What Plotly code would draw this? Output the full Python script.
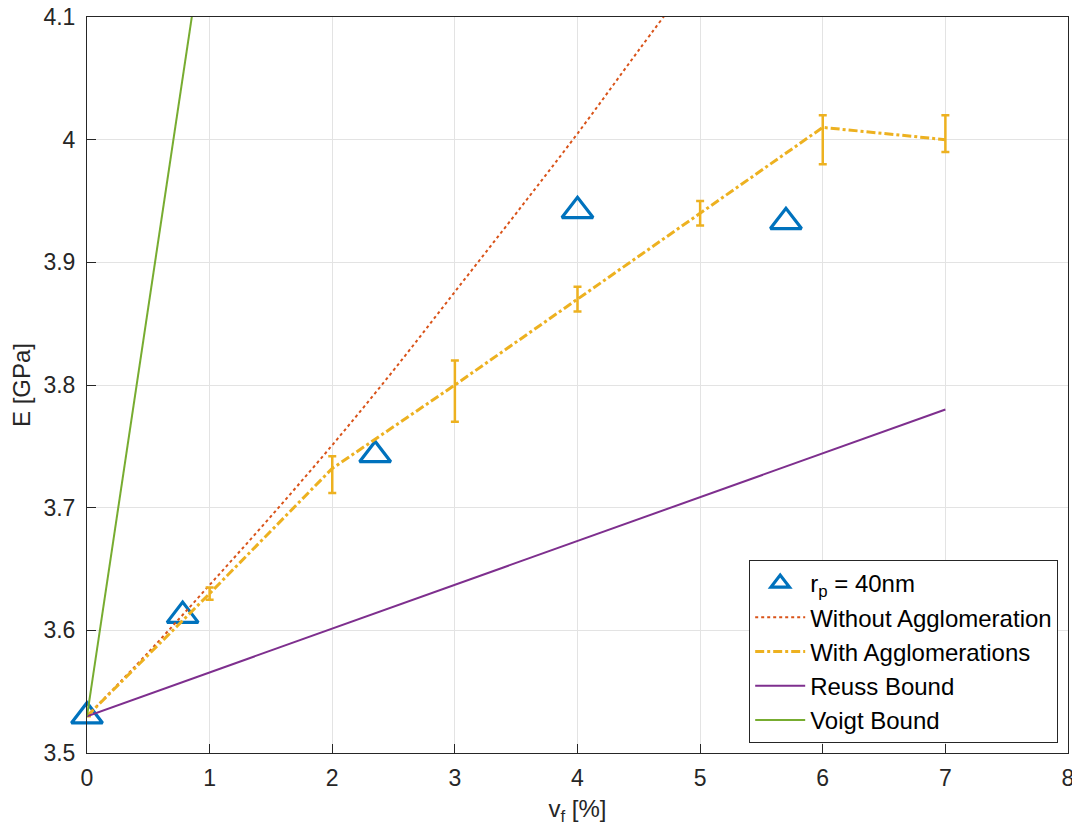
import plotly.graph_objects as go

# Data
rp_x = [0.0, 0.78, 2.35, 4.0, 5.7]
rp_y = [3.53, 3.612, 3.743, 3.942, 3.933]

wo_x = [0, 0.5, 1, 1.5, 2, 2.5, 3, 3.5, 4, 4.5, 5]
wo_y = [3.53, 3.582, 3.637, 3.693, 3.751, 3.812, 3.876, 3.940, 4.005, 4.073, 4.14]

w_x = [0, 1, 2, 3, 4, 5, 6, 7]
w_y = [3.53, 3.63, 3.732, 3.80, 3.87, 3.94, 4.01, 4.00]
w_err_plus = [0, 0.005, 0.01, 0.02, 0.01, 0.01, 0.01, 0.02]
w_err_minus = [0, 0.005, 0.02, 0.03, 0.01, 0.01, 0.03, 0.01]

reuss_x = [0, 7]
reuss_y = [3.53, 3.78]

voigt_x = [0, 1]
voigt_y = [3.53, 4.197]

x_ticks = [0, 1, 2, 3, 4, 5, 6, 7, 8]
y_ticks = [3.5, 3.6, 3.7, 3.8, 3.9, 4.0, 4.1]
y_ticklabels = ["3.5", "3.6", "3.7", "3.8", "3.9", "4", "4.1"]

FONT = "Liberation Sans, Arial"

fig = go.Figure()
fig.add_trace(go.Scatter(x=rp_x, y=rp_y, mode="markers", name="r<sub>p</sub> = 40nm",
                         cliponaxis=False,
                         marker=dict(symbol="triangle-up-open", size=27, color="#0072BD",
                                     line=dict(width=3.2, color="#0072BD"))))
fig.add_trace(go.Scatter(x=wo_x, y=wo_y, mode="lines", name="Without Agglomeration",
                         line=dict(color="#D95319", width=2, dash="dot", shape="spline")))
fig.add_trace(go.Scatter(x=w_x, y=w_y, mode="lines", name="With Agglomerations",
                         line=dict(color="#EDB120", width=3, dash="dashdot"),
                         error_y=dict(type="data", symmetric=False, array=w_err_plus,
                                      arrayminus=w_err_minus, color="#EDB120",
                                      thickness=2.5, width=4)))
fig.add_trace(go.Scatter(x=reuss_x, y=reuss_y, mode="lines", name="Reuss Bound",
                         line=dict(color="#7E2F8E", width=2)))
fig.add_trace(go.Scatter(x=voigt_x, y=voigt_y, mode="lines", name="Voigt Bound",
                         line=dict(color="#77AC30", width=2)))

axis_common = dict(showline=True, linecolor="#262626", linewidth=1, mirror=True,
                   ticks="inside", ticklen=9, tickcolor="#262626",
                   showgrid=True, gridcolor="#e3e3e3", gridwidth=1, zeroline=False,
                   automargin=False, ticklabeloverflow="allow",
                   tickfont=dict(family=FONT, size=23, color="#262626"),
                   title_font=dict(family=FONT, size=24, color="#262626"))

fig.update_xaxes(range=[0, 8], tickvals=x_ticks, title_text="v<sub>f</sub> [%]",
                 title_standoff=18, ticklabelstandoff=4, **axis_common)
fig.update_yaxes(range=[3.5, 4.1], tickvals=y_ticks, ticktext=y_ticklabels,
                 title_text="E [GPa]", title_standoff=6, ticklabelstandoff=6, **axis_common)

# page body has an 8px margin, so the figure is placed at (8, 8)
fig.update_layout(
    width=1072, height=818,
    margin=dict(l=79, r=12, t=9, b=73),
    paper_bgcolor="white", plot_bgcolor="white",
    showlegend=True,
    legend=dict(x=0.99, y=0.0136, xanchor="right", yanchor="bottom",
                bgcolor="white", bordercolor="#262626", borderwidth=1,
                font=dict(family=FONT, size=24, color="#000000"),
                itemwidth=50, tracegroupgap=0),
)

fig.write_html("out.html")
